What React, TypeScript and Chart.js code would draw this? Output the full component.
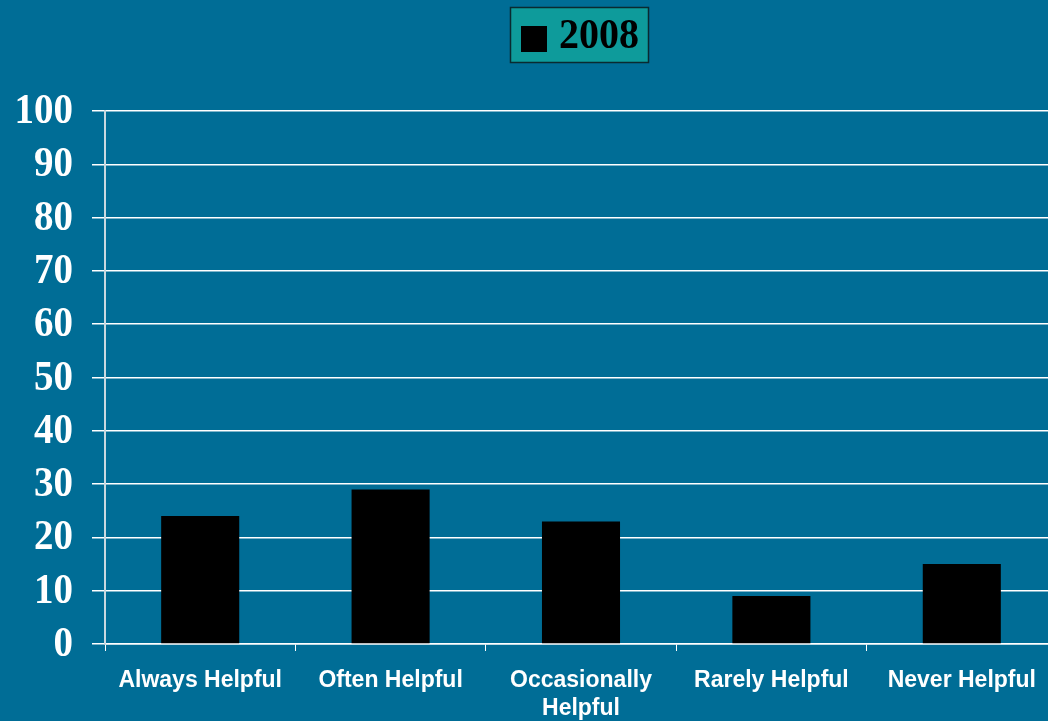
import React, { useEffect, useRef } from "react";
import { Chart, registerables } from "chart.js";

Chart.register(...registerables);

const categories: (string | string[])[] = [
  "Always Helpful",
  "Often Helpful",
  ["Occasionally", "Helpful"],
  "Rarely Helpful",
  "Never Helpful",
];
const values2008 = [24, 29, 23, 9, 15];
const seriesLabel = "2008";
const yTicks = [0, 10, 20, 30, 40, 50, 60, 70, 80, 90, 100];

const BG = "#006D96";
const SERIF = "'Liberation Serif', 'Times New Roman', serif";

const legendPlugin = {
  id: "boxLegend",
  afterDraw(chart: any) {
    const ctx = chart.ctx;
    const x = 510, y = 7, w = 139, h = 56;
    ctx.save();
    ctx.fillStyle = "#0E9B9B";
    ctx.fillRect(x, y, w, h);
    ctx.strokeStyle = "#0a2a30";
    ctx.lineWidth = 1.5;
    ctx.strokeRect(x + 0.5, y + 0.5, w - 1, h - 1);
    ctx.fillStyle = "#000";
    ctx.fillRect(x + 11, y + 19, 26, 26);
    ctx.translate(x + 49, y + h / 2 + 2);
    ctx.scale(1, 1.08);
    ctx.font = `bold 40px ${SERIF}`;
    ctx.textBaseline = "middle";
    ctx.textAlign = "left";
    ctx.fillText(chart.data.datasets[0].label, 0, 0);
    ctx.restore();
  },
};

// y tick labels drawn slightly stretched vertically, like the reference
const yLabelPlugin = {
  id: "yLabels",
  afterDraw(chart: any) {
    const ctx = chart.ctx;
    const ys = chart.scales.y;
    ctx.save();
    ctx.fillStyle = "#ffffff";
    ctx.font = `bold 39px ${SERIF}`;
    ctx.textAlign = "right";
    ctx.textBaseline = "middle";
    for (const t of ys.ticks) {
      const py = ys.getPixelForValue(t.value);
      ctx.save();
      ctx.translate(73, py + 1);
      ctx.scale(1, 1.1);
      ctx.fillText(String(t.value), 0, 0);
      ctx.restore();
    }
    ctx.restore();
  },
};

const bgPlugin = {
  id: "bg",
  beforeDraw(chart: any) {
    const ctx = chart.ctx;
    ctx.save();
    ctx.fillStyle = BG;
    ctx.fillRect(0, 0, chart.width, chart.height);
    ctx.restore();
  },
};

export default function App() {
  const ref = useRef<HTMLCanvasElement>(null);
  useEffect(() => {
    document.body.style.margin = "0";
    document.body.style.overflow = "hidden";
    document.body.style.background = BG;
    const chart = new Chart(ref.current!, {
      type: "bar",
      data: {
        labels: categories,
        datasets: [
          {
            label: seriesLabel,
            data: values2008,
            backgroundColor: "#000000",
            barPercentage: 0.41,
            categoryPercentage: 1,
          },
        ],
      },
      options: {
        responsive: false,
        animation: false,
        layout: { padding: { top: 111, left: 0, right: 0, bottom: 0 } },
        plugins: { legend: { display: false }, tooltip: { enabled: false } },
        scales: {
          x: {
            grid: {
              drawOnChartArea: false,
              drawTicks: true,
              tickLength: 7,
              color: "#ffffff",
              offset: true,
            },
            border: { color: "#ffffff", width: 1.5 },
            ticks: {
              color: "#ffffff",
              font: { family: "'Liberation Sans', Arial, sans-serif", weight: "bold", size: 23, lineHeight: 1.25 },
              padding: 15,
              maxRotation: 0,
              autoSkip: false,
            },
            afterFit(s: any) {
              s.height = 77;
            },
          },
          y: {
            min: 0,
            max: 100,
            afterBuildTicks(s: any) {
              s.ticks = yTicks.map((v) => ({ value: v }));
            },
            grid: {
              color: "#ffffff",
              lineWidth: 1.5,
              tickLength: 13,
              drawTicks: true,
            },
            border: { color: "#c8d8e0", width: 2 },
            ticks: {
              color: "rgba(0,0,0,0)",
              font: { family: SERIF, weight: "bold", size: 39 },
              padding: 19,
            },
            afterFit(s: any) {
              s.width = 105;
            },
          },
        },
      },
      plugins: [bgPlugin, yLabelPlugin, legendPlugin],
    });
    return () => chart.destroy();
  }, []);
  return (
    <div style={{ position: "fixed", left: 0, top: 0, width: 1048, height: 721, overflow: "hidden", background: BG }}>
      <canvas ref={ref} width={1057} height={721} style={{ display: "block" }} />
    </div>
  );
}
